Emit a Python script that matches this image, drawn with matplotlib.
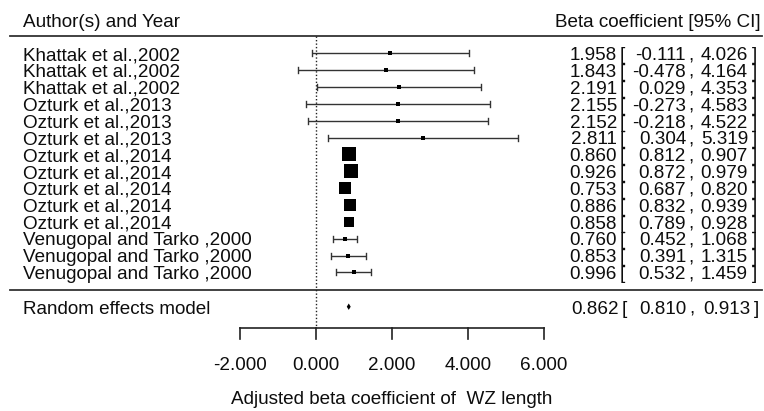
import matplotlib
matplotlib.use("Agg")
import matplotlib.pyplot as plt
import numpy as np

studies = ["Khattak et al.,2002", "Khattak et al.,2002", "Khattak et al.,2002",
           "Ozturk et al.,2013", "Ozturk et al.,2013", "Ozturk et al.,2013",
           "Ozturk et al.,2014", "Ozturk et al.,2014", "Ozturk et al.,2014",
           "Ozturk et al.,2014", "Ozturk et al.,2014",
           "Venugopal and Tarko ,2000", "Venugopal and Tarko ,2000", "Venugopal and Tarko ,2000"]
estimate = [1.958, 1.843, 2.191, 2.155, 2.152, 2.811, 0.860, 0.926, 0.753, 0.886, 0.858, 0.760, 0.853, 0.996]
lower = [-0.111, -0.478, 0.029, -0.273, -0.218, 0.304, 0.812, 0.872, 0.687, 0.832, 0.789, 0.452, 0.391, 0.532]
upper = [4.026, 4.164, 4.353, 4.583, 4.522, 5.319, 0.907, 0.979, 0.820, 0.939, 0.928, 1.068, 1.315, 1.459]
weights = [2.8, 2.8, 2.8, 2.8, 2.8, 2.8, 10.0, 10.0, 8.6, 9.0, 8.2, 3.4, 3.4, 3.4]
re_label = "Random effects model"
re_est, re_lo, re_hi = 0.862, 0.810, 0.913
xticks = [-2, 0, 2, 4, 6]
xlabel = "Adjusted beta coefficient of  WZ length"

W, H = 764, 411
X0, PPU = 316.0, 38.0  # pixel of x=0, pixels per unit
def px(p):
    return (p - X0) / PPU

plt.rcParams['font.family'] = ['Liberation Sans', 'DejaVu Sans']
FS = 13.6
TC = '#0d0d0d'

fig = plt.figure(figsize=(W / 100, H / 100), dpi=100)
ax = fig.add_axes([0, 0, 1, 1])
ax.set_xlim(px(0), px(W))
ax.set_ylim(H, 0)
ax.axis('off')

row0, dy = 53.3, 16.85
rows = row0 + dy * np.arange(len(studies))
base = 6.8  # baseline offset so caps center on row

# header
ax.text(px(23), 19.8 + base, "Author(s) and Year", fontsize=FS, color=TC, ha='left', va='baseline')
ax.text(px(761), 19.8 + base, "Beta coefficient [95% CI]", fontsize=FS, color=TC, ha='right', va='baseline')
ax.plot([px(10), px(762)], [36, 36], color='#333333', lw=1.3)
ax.plot([px(10), px(762)], [290, 290], color='#333333', lw=1.3)

# zero line
ax.plot([0, 0], [36, 328.3], color='#222222', lw=1.0, ls=(0, (1, 1.5)))

cap = 3.0
for i, (s, e, lo, hi, w) in enumerate(zip(studies, estimate, lower, upper, weights)):
    y = rows[i]
    ax.plot([lo, hi], [y, y], color='#333333', lw=1.0, solid_capstyle='butt')
    ax.plot([lo, lo], [y - cap, y + cap], color='#333333', lw=1.0)
    ax.plot([hi, hi], [y - cap, y + cap], color='#333333', lw=1.0)
    ax.plot([e], [y], marker='s', color='black', markersize=w * 1.33 * 0.72, markeredgewidth=0)
    ax.text(px(23), y + base, s, fontsize=FS, color=TC, ha='left', va='baseline')
    ax.text(px(617), y + base, f"{e:.3f}", fontsize=FS, color=TC, ha='right', va='baseline')
    ax.text(px(620), y + base, "[", fontsize=FS, color=TC, ha='left', va='baseline')
    ax.text(px(686), y + base, f"{lo:.3f}", fontsize=FS, color=TC, ha='right', va='baseline')
    ax.text(px(688), y + base, ",", fontsize=FS, color=TC, ha='left', va='baseline')
    ax.text(px(748), y + base, f"{hi:.3f}", fontsize=FS, color=TC, ha='right', va='baseline')
    ax.text(px(752), y + base, "]", fontsize=FS, color=TC, ha='left', va='baseline')

# random effects
yr = 306.7
ax.fill([re_lo, re_est, re_hi, re_est], [yr, yr - 3.2, yr, yr + 3.2], color='black', lw=0)
ax.text(px(23), yr + base, re_label, fontsize=FS, color=TC, ha='left', va='baseline')
ax.text(px(619), yr + base, f"{re_est:.3f}", fontsize=FS, color=TC, ha='right', va='baseline')
ax.text(px(622), yr + base, "[", fontsize=FS, color=TC, ha='left', va='baseline')
ax.text(px(687), yr + base, f"{re_lo:.3f}", fontsize=FS, color=TC, ha='right', va='baseline')
ax.text(px(689), yr + base, ",", fontsize=FS, color=TC, ha='left', va='baseline')
ax.text(px(751), yr + base, f"{re_hi:.3f}", fontsize=FS, color=TC, ha='right', va='baseline')
ax.text(px(754), yr + base, "]", fontsize=FS, color=TC, ha='left', va='baseline')

# x axis
ya = 328.3
ax.plot([xticks[0], xticks[-1]], [ya, ya], color='#222222', lw=1.2)
for t in xticks:
    ax.plot([t, t], [ya, ya + 11], color='#222222', lw=1.2)
    ax.text(t, 363 + base, f"{t:.3f}", fontsize=FS, color=TC, ha='center', va='baseline')
ax.text(np.mean([xticks[0], xticks[-1]]), 397 + base, xlabel, fontsize=FS, color=TC,
        ha='center', va='baseline')

fig.savefig("out.png", dpi=100)
